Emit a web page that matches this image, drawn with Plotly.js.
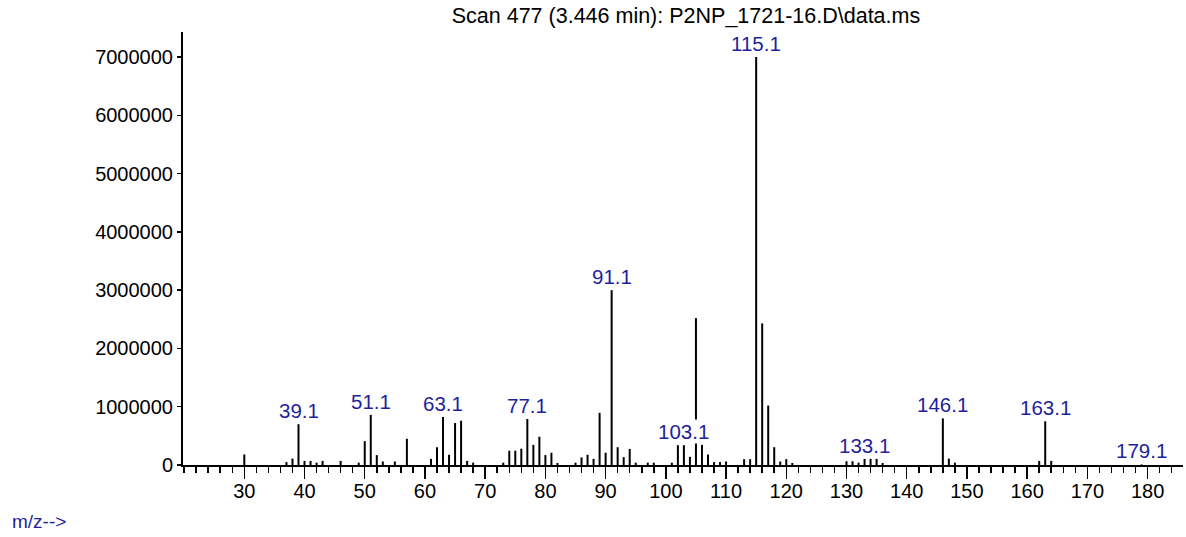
<!DOCTYPE html>
<html>
<head>
<meta charset="utf-8">
<script src="https://cdn.plot.ly/plotly-3.0.1.min.js"></script>
<style>
  html, body { margin: 0; padding: 0; background: #ffffff; }
  #chart { width: 1186px; height: 537px; }
</style>
</head>
<body>
<div id="chart"></div>
<script>
// ---- data (m/z, abundance) ----
const mz = [30, 37, 38, 39, 40, 41, 42, 43, 46, 49, 50, 51, 52, 53, 55, 57,
  61, 62, 63, 64, 65, 66, 67, 68, 73, 74, 75, 76, 77, 78, 79, 80, 81, 82,
  85, 86, 87, 88, 89, 90, 91, 92, 93, 94, 95, 97, 98,
  101, 102, 103, 104, 105, 106, 107, 108, 109, 110, 113, 114, 115, 116, 117,
  118, 119, 120, 121, 130, 131, 132, 133, 134, 135, 136, 146, 147, 148,
  162, 163, 164, 179];
const abundance = [180000, 50000, 110000, 700000, 70000, 70000, 40000, 70000, 70000, 40000, 410000, 860000, 170000, 60000, 60000, 450000,
  105000, 305000, 825000, 175000, 720000, 760000, 70000, 40000, 40000, 245000, 245000, 280000, 790000, 345000, 485000, 170000, 210000, 35000,
  40000, 130000, 175000, 105000, 895000, 210000, 3000000, 305000, 135000, 275000, 40000, 40000, 40000,
  40000, 340000, 340000, 140000, 2520000, 345000, 180000, 50000, 50000, 60000, 100000, 100000, 7000000, 2430000, 1020000,
  305000, 60000, 100000, 35000, 65000, 65000, 40000, 105000, 105000, 105000, 35000, 800000, 110000, 40000,
  70000, 750000, 70000, 10000];

// labelled peaks
const labelMz = [39, 51, 63, 77, 91, 103, 115, 133, 146, 163, 179];
const labelText = ["39.1", "51.1", "63.1", "77.1", "91.1", "103.1", "115.1", "133.1", "146.1", "163.1", "179.1"];

// axis ticks
const xTickVals = [30, 40, 50, 60, 70, 80, 90, 100, 110, 120, 130, 140, 150, 160, 170, 180];
const yTickVals = [0, 1000000, 2000000, 3000000, 4000000, 5000000, 6000000, 7000000];

const titleText = "Scan 477 (3.446 min): P2NP_1721-16.D\\data.ms";
const xLabelText = "m/z-->";

// ---- build stick segments from the data ----
const sx = [], sy = [];
for (let i = 0; i < mz.length; i++) {
  sx.push(mz[i], mz[i], null);
  sy.push(0, abundance[i], null);
}

const FONT = "Liberation Sans, Arial, sans-serif";
const BLUE = "#1f1f9c";

const traces = [{
  type: "scatter",
  mode: "lines",
  x: sx,
  y: sy,
  line: { color: "#000000", width: 2 },
  hoverinfo: "skip",
  showlegend: false
}];

const annotations = labelMz.map((m, k) => {
  const idx = mz.indexOf(m);
  return {
    x: m, y: abundance[idx], xref: "x", yref: "y",
    text: labelText[k], showarrow: false,
    xanchor: "center", yanchor: "bottom", yshift: 1,
    bgcolor: "#ffffff", borderpad: 0,
    font: { family: FONT, size: 20.5, color: BLUE }
  };
});
annotations.push({
  x: -0.173, y: -0.1316, xref: "paper", yref: "paper",
  text: xLabelText, showarrow: false, xanchor: "left", yanchor: "middle",
  font: { family: FONT, size: 19, color: BLUE }
});

const layout = {
  width: 1186, height: 537,
  margin: { l: 183, r: 3, t: 32, b: 72, pad: 0 },
  paper_bgcolor: "#ffffff",
  plot_bgcolor: "#ffffff",
  font: { family: FONT, size: 20, color: "#000000" },
  title: {
    text: titleText,
    font: { family: FONT, size: 21.5, color: "#000000" },
    x: 0.5784, xanchor: "center", xref: "container",
    y: 0.972, yanchor: "middle", yref: "container"
  },
  xaxis: {
    range: [19.82, 185.88],
    tickmode: "array", tickvals: xTickVals,
    ticks: "outside", ticklen: 12, tickwidth: 1.5, tickcolor: "#000000",
    ticklabelstandoff: -5,
    minor: { tickmode: "linear", tick0: 0, dtick: 2, ticks: "outside", ticklen: 6, tickwidth: 1.5, tickcolor: "#000000", showgrid: false },
    showline: true, linecolor: "#000000", linewidth: 2,
    showgrid: false, zeroline: false,
    tickfont: { family: FONT, size: 20, color: "#000000" },
    fixedrange: true
  },
  yaxis: {
    range: [0, 7430000],
    tickmode: "array", tickvals: yTickVals, tickformat: "d",
    ticks: "outside", ticklen: 4, tickwidth: 1.5, tickcolor: "#000000",
    showline: true, linecolor: "#000000", linewidth: 2,
    showgrid: false, zeroline: false,
    tickfont: { family: FONT, size: 20, color: "#000000" },
    fixedrange: true
  },
  annotations: annotations,
  showlegend: false
};

Plotly.newPlot("chart", traces, layout, { displayModeBar: false, staticPlot: true });
</script>
</body>
</html>
